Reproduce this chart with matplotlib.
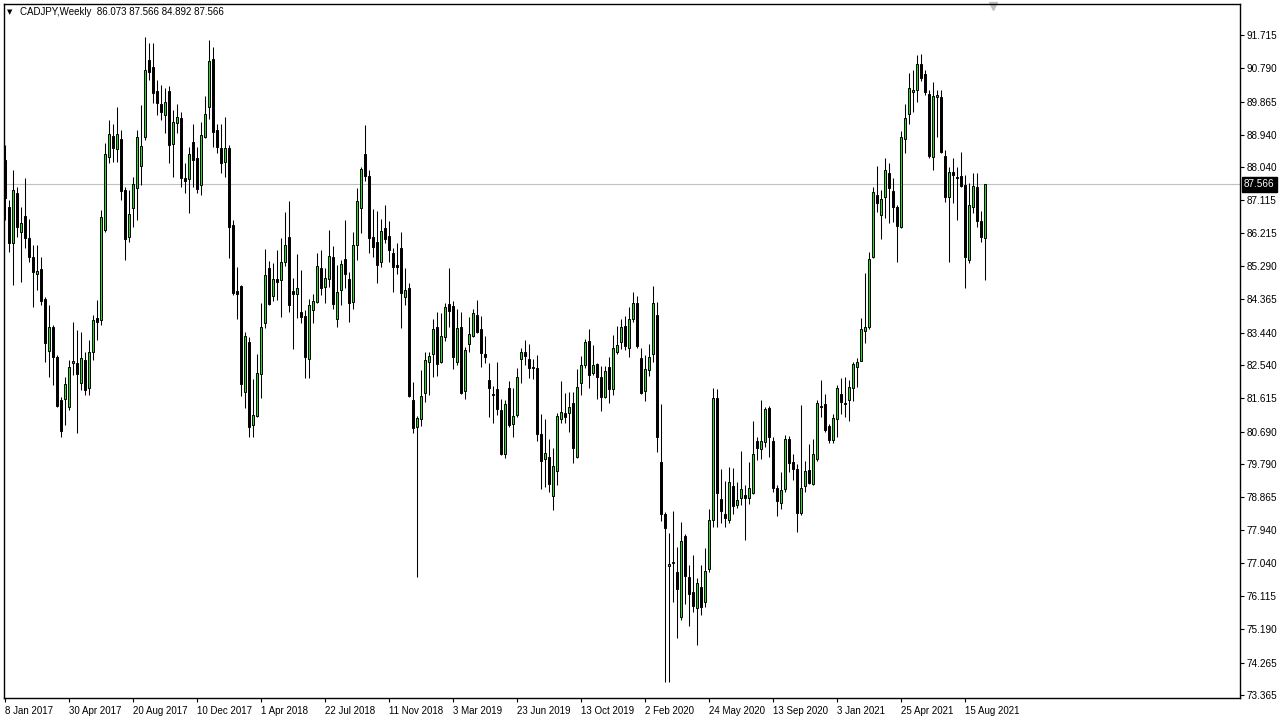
import matplotlib
matplotlib.use("Agg")
import matplotlib.pyplot as plt
import matplotlib.transforms as mtransforms
import numpy as np
import pandas as pd

plt.rcParams["font.family"] = ["Liberation Sans", "DejaVu Sans"]

symbol = "CADJPY,Weekly"
first_week = "2017-01-08"

opens = [
    88.24, 86.93, 85.93, 87.32, 86.24, 86.68, 86.07, 85.54, 85.07, 85.21,
    84.38, 82.93, 83.60, 82.76, 81.57, 81.60, 81.37, 82.60, 82.60, 82.04,
    82.68, 81.90, 82.90, 83.85, 83.79, 86.29, 88.32, 88.91, 88.55, 88.82,
    87.41, 86.10, 86.91, 87.46, 88.07, 88.88, 91.02, 90.83, 90.16, 89.80,
    89.49, 90.16, 88.68, 89.27, 89.41, 87.74, 87.71, 88.74, 88.30, 87.54,
    88.88, 89.71, 91.05, 89.07, 88.57, 88.18, 88.57, 86.43, 84.60, 84.74,
    81.79, 83.18, 80.87, 81.12, 82.29, 83.71, 85.24, 84.46, 84.93, 84.90,
    85.40, 86.10, 84.60, 84.51, 84.01, 83.90, 82.71, 84.07, 84.29, 85.24,
    84.71, 84.93, 85.54, 83.82, 84.63, 85.49, 84.93, 84.29, 85.88, 86.91,
    88.41, 87.79, 86.10, 85.96, 85.40, 86.35, 86.13, 85.65, 85.32, 85.79,
    84.43, 84.68, 81.57, 80.82, 81.04, 81.76, 82.62, 82.85, 83.60, 82.62,
    83.32, 84.24, 84.18, 82.62, 83.60, 81.82, 83.12, 83.35, 83.93, 83.54,
    82.85, 82.12, 81.73, 81.87, 81.29, 80.07, 81.90, 80.90, 81.15, 82.71,
    82.90, 82.71, 82.46, 82.46, 80.62, 79.93, 79.98, 78.90, 79.59, 81.04,
    81.21, 81.21, 81.48, 79.98, 82.04, 82.54, 83.21, 82.32, 82.57, 82.21,
    81.65, 82.49, 81.87, 82.90, 83.18, 83.62, 83.01, 83.82, 84.26, 82.74,
    81.82, 82.40, 82.85, 83.93, 79.84, 78.40, 76.95, 77.04, 76.79, 75.53,
    77.79, 76.65, 76.23, 75.79, 76.37, 75.95, 76.87, 78.23, 81.62, 78.82,
    78.40, 78.23, 79.18, 78.65, 78.84, 78.93, 78.84, 78.98, 80.43, 80.20,
    80.40, 81.35, 80.43, 79.12, 78.70, 79.09, 80.48, 79.84, 79.65, 78.43,
    79.18, 79.62, 79.23, 79.93, 81.40, 81.46, 80.84, 80.45, 81.04, 81.73,
    81.48, 81.57, 81.90, 82.49, 82.65, 83.48, 83.60, 85.54, 87.27, 86.71,
    87.21, 87.88, 87.38, 86.93, 86.38, 88.82, 89.52, 90.13, 90.19, 90.91,
    90.63, 90.07, 88.32, 89.99, 89.99, 88.35, 87.21, 87.91, 87.77, 87.79,
    87.54, 85.46, 86.93, 87.49, 86.54, 86.073,
]

highs = [
    88.66, 87.13, 87.96, 87.49, 86.93, 87.74, 86.60, 85.88, 85.88, 85.54,
    84.43, 84.21, 83.65, 82.82, 81.65, 82.21, 82.68, 83.74, 83.51, 83.46,
    82.90, 83.24, 83.93, 84.35, 86.85, 88.71, 89.35, 89.24, 89.71, 89.07,
    87.49, 87.41, 87.77, 89.07, 89.77, 91.66, 91.49, 91.49, 90.46, 90.32,
    90.24, 90.30, 89.63, 89.80, 89.57, 88.16, 88.60, 89.24, 88.60, 89.30,
    90.02, 91.58, 91.38, 89.24, 89.24, 89.44, 88.66, 86.57, 85.27, 84.76,
    83.46, 83.32, 82.15, 82.85, 84.26, 85.77, 85.43, 85.38, 85.74, 86.07,
    86.79, 87.10, 84.96, 85.63, 85.18, 84.07, 84.38, 84.51, 85.65, 85.74,
    85.24, 86.29, 85.85, 85.32, 85.46, 86.57, 85.13, 86.24, 87.46, 88.04,
    89.21, 87.96, 86.88, 86.82, 86.60, 86.99, 86.54, 85.79, 85.93, 86.24,
    85.24, 84.82, 82.07, 81.12, 82.40, 82.90, 82.90, 83.82, 84.01, 83.99,
    84.26, 85.24, 84.32, 84.10, 84.01, 83.04, 83.87, 84.10, 84.35, 83.90,
    83.35, 82.60, 81.96, 82.62, 81.59, 81.57, 82.10, 81.90, 82.46, 83.01,
    83.24, 83.12, 82.71, 82.82, 81.18, 81.04, 80.48, 80.23, 81.21, 82.10,
    81.76, 81.79, 81.79, 82.43, 82.79, 83.26, 83.54, 83.10, 82.60, 82.51,
    82.51, 82.76, 83.37, 83.62, 83.82, 83.90, 84.15, 84.57, 84.46, 83.01,
    82.82, 83.12, 84.74, 84.29, 81.46, 78.45, 77.87, 78.48, 77.48, 78.18,
    77.84, 76.98, 77.26, 76.62, 76.98, 77.45, 78.54, 81.90, 81.87, 79.65,
    79.32, 79.70, 79.68, 79.29, 80.15, 79.20, 79.84, 80.98, 80.54, 81.57,
    81.37, 81.40, 80.54, 79.20, 79.57, 80.59, 80.57, 80.07, 79.79, 81.43,
    79.87, 80.34, 80.48, 81.57, 82.12, 81.73, 80.90, 81.18, 81.98, 82.18,
    82.21, 82.12, 82.62, 82.74, 83.85, 85.10, 85.68, 87.49, 88.07, 87.41,
    88.30, 88.16, 87.74, 86.99, 89.05, 89.80, 90.66, 90.74, 91.16, 91.19,
    90.74, 90.19, 90.41, 90.19, 90.19, 88.52, 88.04, 88.30, 88.04, 88.46,
    87.82, 87.60, 87.88, 87.88, 86.82, 87.566,
]

lows = [
    86.57, 85.68, 84.77, 86.10, 84.85, 85.79, 85.40, 84.15, 84.63, 84.21,
    82.62, 82.21, 81.98, 81.37, 80.54, 80.87, 81.29, 82.26, 80.65, 81.85,
    81.71, 81.71, 82.68, 83.24, 83.65, 86.24, 88.16, 88.18, 88.18, 87.13,
    85.46, 85.96, 86.38, 86.57, 87.54, 88.80, 90.46, 89.82, 89.49, 89.35,
    88.99, 88.16, 87.77, 88.99, 87.49, 87.32, 86.77, 87.49, 87.32, 87.27,
    88.85, 89.38, 88.60, 88.43, 87.88, 87.77, 85.52, 84.49, 83.82, 81.68,
    81.34, 80.54, 80.54, 81.10, 81.62, 83.57, 84.21, 84.32, 84.35, 83.87,
    85.29, 84.01, 82.99, 83.85, 83.71, 82.18, 82.18, 83.71, 84.26, 84.49,
    84.26, 84.71, 84.10, 83.60, 84.21, 84.68, 83.74, 84.10, 85.46, 86.21,
    87.66, 85.65, 85.54, 84.82, 85.27, 85.93, 85.40, 84.57, 85.07, 83.57,
    84.21, 81.65, 80.65, 76.65, 80.85, 81.51, 81.71, 82.21, 82.23, 82.60,
    83.21, 83.60, 82.43, 82.54, 81.73, 81.60, 82.90, 83.32, 83.43, 82.49,
    82.60, 81.09, 80.93, 81.15, 80.04, 79.96, 80.82, 80.54, 81.10, 82.04,
    82.54, 82.18, 82.15, 80.43, 79.09, 79.15, 79.01, 78.51, 79.20, 80.93,
    80.93, 80.68, 79.82, 79.96, 81.71, 82.46, 81.90, 82.26, 81.60, 81.26,
    81.62, 81.48, 81.71, 82.85, 82.99, 82.96, 82.76, 83.74, 83.01, 81.73,
    81.54, 82.23, 82.62, 80.12, 78.20, 73.73, 73.73, 75.95, 74.95, 75.45,
    75.90, 75.29, 75.67, 74.76, 75.59, 75.81, 76.79, 78.04, 78.04, 78.15,
    78.04, 78.15, 78.40, 78.57, 78.65, 77.68, 78.68, 78.95, 79.90, 79.93,
    80.26, 79.98, 79.01, 78.34, 78.54, 79.01, 79.57, 79.34, 77.90, 78.37,
    79.01, 79.23, 79.20, 79.87, 81.09, 80.68, 80.37, 80.37, 80.54, 81.17,
    81.09, 80.98, 81.54, 81.93, 82.65, 83.15, 83.54, 85.52, 86.79, 86.04,
    86.63, 86.49, 86.52, 85.40, 86.35, 88.43, 89.24, 89.57, 89.85, 90.44,
    90.05, 88.30, 87.96, 88.88, 88.43, 87.07, 85.40, 87.04, 86.57, 87.49,
    84.68, 85.38, 86.77, 86.38, 85.96, 84.892,
]

closes = [
    87.18, 85.93, 87.41, 86.38, 86.49, 86.07, 85.54, 85.13, 85.15, 84.32,
    83.15, 83.60, 82.76, 81.40, 80.71, 82.01, 82.49, 82.65, 82.29, 82.74,
    81.85, 82.90, 83.79, 83.74, 86.66, 88.41, 88.96, 88.57, 88.96, 87.38,
    86.04, 86.74, 87.57, 88.88, 88.63, 90.74, 90.69, 90.10, 89.82, 89.57,
    89.85, 88.66, 89.30, 89.44, 87.74, 87.66, 88.41, 88.24, 87.43, 88.93,
    89.52, 90.99, 89.02, 88.60, 88.16, 88.57, 86.38, 84.54, 84.51, 82.01,
    83.35, 80.82, 81.15, 82.32, 83.60, 85.04, 84.24, 84.93, 84.85, 85.40,
    85.88, 84.21, 84.51, 84.68, 83.87, 82.76, 84.21, 84.32, 85.29, 84.68,
    84.96, 85.57, 84.24, 84.57, 85.35, 85.07, 84.26, 85.88, 87.10, 87.99,
    87.79, 86.07, 85.82, 85.32, 86.27, 86.04, 85.74, 85.27, 85.27, 84.54,
    84.63, 81.68, 80.79, 81.07, 81.68, 82.68, 82.79, 83.54, 82.57, 83.35,
    84.15, 84.04, 82.76, 83.57, 81.76, 82.96, 83.40, 83.99, 83.46, 82.87,
    82.76, 81.90, 81.71, 81.32, 80.07, 81.46, 80.87, 81.12, 82.21, 82.90,
    82.79, 82.46, 82.49, 80.62, 79.87, 80.09, 79.23, 79.73, 81.12, 81.23,
    81.10, 81.37, 80.23, 81.93, 82.54, 83.18, 82.26, 82.54, 82.21, 81.65,
    82.37, 81.87, 83.01, 83.10, 83.60, 83.07, 83.82, 84.26, 83.07, 81.76,
    82.43, 82.76, 84.26, 80.54, 78.40, 78.01, 77.01, 77.06, 76.31, 77.65,
    76.68, 76.17, 75.84, 76.48, 75.81, 76.81, 78.23, 81.62, 78.98, 78.48,
    78.29, 79.29, 78.62, 78.79, 79.09, 78.84, 79.12, 80.06, 80.23, 80.43,
    81.32, 80.54, 79.12, 78.76, 79.07, 80.48, 79.82, 79.65, 78.43, 79.12,
    79.59, 79.26, 80.07, 81.48, 81.37, 80.73, 80.45, 81.07, 81.90, 81.51,
    81.46, 81.93, 82.57, 82.62, 83.54, 83.60, 85.49, 87.35, 87.04, 87.16,
    87.96, 87.46, 86.93, 86.40, 88.88, 89.41, 90.24, 90.19, 90.91, 90.52,
    90.13, 88.35, 90.02, 90.05, 88.46, 87.21, 87.91, 87.82, 87.74, 87.52,
    85.54, 86.99, 87.52, 86.54, 86.10, 87.566,
]

price_ticks = [91.715, 90.790, 89.865, 88.940, 88.040, 87.115, 86.215,
               85.290, 84.365, 83.440, 82.540, 81.615, 80.690, 79.790,
               78.865, 77.940, 77.040, 76.115, 75.190, 74.265, 73.365]
label_every = 16

n = len(opens)
assert len(highs) == n and len(lows) == n and len(closes) == n
weeks = pd.date_range(first_week, periods=n, freq="7D")
x = np.arange(n)
o = np.array(opens)
h = np.array(highs)
l = np.array(lows)
c = np.array(closes)
up = c >= o

fig = plt.figure(figsize=(12.84, 7.21), dpi=100)
ax = fig.add_axes([4 / 1284, 23 / 721, 1236 / 1284, 694 / 721])

# wicks then bodies
ax.vlines(x, l, h, color="black", linewidth=0.75, zorder=2)
body_h = np.maximum(np.abs(c - o), 0.015)
ax.bar(x, body_h, bottom=np.minimum(o, c), width=0.72,
       color=np.where(up, "#22dd22", "black"), edgecolor="black",
       linewidth=0.7, zorder=3)

bid = closes[-1]
ax.axhline(bid, color="#c0c0c0", linewidth=0.8, zorder=1)

ax.set_xlim(-0.25, 308.75)
ax.set_ylim(73.283, 92.577)

for s in ax.spines.values():
    s.set_color("black")
    s.set_linewidth(1.0)

ax.yaxis.tick_right()
ax.set_yticks(price_ticks)
ax.set_yticklabels([f"{v:.3f}" for v in price_ticks])
ax.tick_params(axis="y", direction="out", length=3, width=0.8, labelsize=7.2, pad=2)

xt = x[::label_every]
ax.set_xticks(xt)
ax.set_xticklabels([f"{d.day} {d.strftime('%b %Y')}" for d in weeks[::label_every]])
ax.tick_params(axis="x", direction="out", length=3, width=0.8, labelsize=7, pad=3)
for t in ax.get_xticklabels():
    t.set_ha("left")

# current price box on the price scale
trans = mtransforms.blended_transform_factory(ax.transAxes, ax.transData)
ax.text(1.0 + 4 / 1236, bid, f"{bid:.3f}", transform=trans, ha="left", va="center",
        color="white", fontsize=7.2,
        bbox=dict(boxstyle="square,pad=0.25", fc="black", ec="black"))

# header text
fig.text(7 / 1284, 1 - 12 / 721, "\u25bc", fontsize=5, va="center", ha="left",
         family="DejaVu Sans")
fig.text(20 / 1284, 1 - 12 / 721,
         f"{symbol}  {opens[-1]:.3f} {highs[-1]:.3f} {lows[-1]:.3f} {closes[-1]:.3f}",
         fontsize=7, va="center", ha="left")

# chart shift marker
ax.plot([(993 - 4) / 1236], [0.997], marker="v", color="#c0c0c0", markersize=6,
        transform=ax.transAxes, clip_on=False)

fig.savefig("out.png", dpi=100, facecolor="white")
